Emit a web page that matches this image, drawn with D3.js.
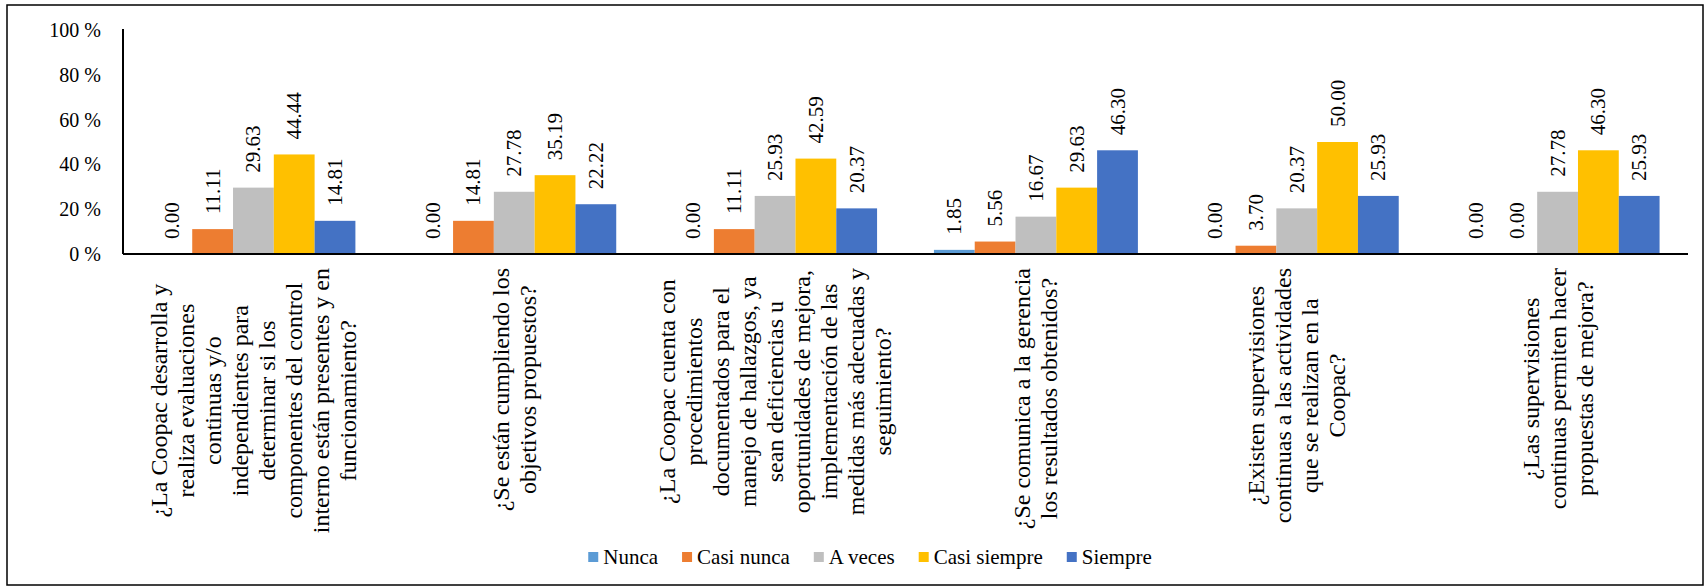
<!doctype html>
<html>
<head>
    <meta charset="UTF-8">
    <title>encuesta</title>
    <script src="https://d3js.org/d3.v7.min.js"></script>
    <style>
        body { margin: 0; background: #fff; }
        svg text { font-family: 'Liberation Serif', 'Times New Roman', Tinos, 'DejaVu Serif', serif; fill: #000; }
    </style>
</head>
<body>
<svg id="chart" width="1708" height="586"></svg>

<script>
    // preguntas (cada una partida en sus lineas)
    var preguntas = [
        ["¿La Coopac desarrolla y", "realiza evaluaciones", "continuas y/o", "independientes para",
         "determinar si los", "componentes del control", "interno están presentes y en", "funcionamiento?"],
        ["¿Se están cumpliendo los", "objetivos propuestos?"],
        ["¿La Coopac cuenta con", "procedimientos", "documentados para el", "manejo de hallazgos, ya",
         "sean deficiencias u", "oportunidades de mejora,", "implementación de las",
         "medidas más adecuadas y", "seguimiento?"],
        ["¿Se comunica a la gerencia", "los resultados obtenidos?"],
        ["¿Existen supervisiones", "continuas a las actividades", "que se realizan en la", "Coopac?"],
        ["¿Las supervisiones", "continuas permiten hacer", "propuestas de mejora?"]
    ];

    var series = ["Nunca", "Casi nunca", "A veces", "Casi siempre", "Siempre"];

    var nunca       = [0, 0, 0, 1.85, 0, 0];
    var casiNunca   = [11.11, 14.81, 11.11, 5.56, 3.70, 0];
    var aVeces      = [29.63, 27.78, 25.93, 16.67, 20.37, 27.78];
    var casiSiempre = [44.44, 35.19, 42.59, 29.63, 50.00, 46.30];
    var siempre     = [14.81, 22.22, 20.37, 46.30, 25.93, 25.93];

    var yTicks = [0, 20, 40, 60, 80, 100];

    var colores = ["#5B9BD5", "#ED7D31", "#BFBFBF", "#FFC000", "#4472C4"];

    var valores = [nunca, casiNunca, aVeces, casiSiempre, siempre];

    var fuente = "'Liberation Serif', 'Times New Roman', Tinos, 'DejaVu Serif', serif";
    var x0 = 123, x1 = 1688, yTop = 30, yBase = 254;

    var svg = d3.select("#chart")
        .attr("font-family", fuente);

    // marco
    svg.append("rect")
        .attr("x", 7).attr("y", 5)
        .attr("width", 1696).attr("height", 580)
        .attr("fill", "none")
        .attr("stroke", "#000")
        .attr("stroke-width", 1.5);

    var idx = preguntas.map(function(d, i){ return i; });

    var x = d3.scaleBand()
        .domain(idx)
        .range([x0, x1])
        .paddingInner(0.218)
        .paddingOuter(0.109);

    var xs = d3.scaleBand()
        .domain(series)
        .range([0, x.bandwidth()]);

    var y = d3.scaleLinear()
        .domain([0, 100])
        .range([yBase, yTop]);

    // eje y (solo etiquetas)
    var yAxis = d3.axisLeft(y)
        .tickValues(yTicks)
        .tickSize(0)
        .tickPadding(22)
        .tickFormat(function(d){ return d + " %"; });

    var gy = svg.append("g")
        .attr("transform", "translate(" + x0 + ",0)")
        .call(yAxis)
        .attr("font-family", fuente)
        .attr("font-size", 20);
    gy.select(".domain").remove();

    // barras
    var grupos = svg.selectAll("g.grupo")
        .data(idx)
        .enter().append("g")
        .attr("class", "grupo")
        .attr("transform", function(i){ return "translate(" + x(i) + ",0)"; });

    function filas(i){
        return series.map(function(s, k){ return {s: s, k: k, v: valores[k][i]}; });
    }

    grupos.selectAll("rect")
        .data(filas)
        .enter().append("rect")
        .attr("x", function(d){ return xs(d.s); })
        .attr("y", function(d){ return y(d.v); })
        .attr("width", xs.bandwidth())
        .attr("height", function(d){ return yBase - y(d.v); })
        .attr("fill", function(d){ return colores[d.k]; });

    // etiquetas de valor
    grupos.selectAll("text.val")
        .data(filas)
        .enter().append("text")
        .attr("class", "val")
        .attr("transform", function(d){
            return "translate(" + (xs(d.s) + xs.bandwidth() / 2) + "," + (y(d.v) - 15) + ") rotate(-90)";
        })
        .attr("dominant-baseline", "central")
        .attr("font-size", 21)
        .text(function(d){ return d.v.toFixed(2); });

    // ejes
    svg.append("line")
        .attr("x1", x0).attr("x2", x0)
        .attr("y1", yTop - 1).attr("y2", yBase)
        .attr("stroke", "#000").attr("stroke-width", 2);
    svg.append("line")
        .attr("x1", x0).attr("x2", x1)
        .attr("y1", yBase).attr("y2", yBase)
        .attr("stroke", "#000").attr("stroke-width", 2);

    // etiquetas de categoria, giradas
    var lineH = 27;
    preguntas.forEach(function(lineas, i){
        var cx = x(i) + x.bandwidth() / 2;
        var g = svg.append("g");
        var ts = lineas.map(function(t){
            return g.append("text")
                .attr("font-size", 24)
                .attr("text-anchor", "middle")
                .attr("dominant-baseline", "central")
                .text(t);
        });
        var maxLen = d3.max(ts, function(t){ return t.node().getComputedTextLength(); });
        var cy = yBase + 14 + maxLen / 2;
        ts.forEach(function(t, j){
            var lx = cx + (j - (lineas.length - 1) / 2) * lineH;
            t.attr("transform", "translate(" + lx + "," + cy + ") rotate(-90)");
        });
    });

    // leyenda
    var leg = svg.append("g");
    var posX = 0;
    series.forEach(function(s, k){
        leg.append("rect")
            .attr("x", posX).attr("y", -5)
            .attr("width", 10).attr("height", 10)
            .attr("fill", colores[k]);
        var t = leg.append("text")
            .attr("x", posX + 15).attr("y", 0)
            .attr("dominant-baseline", "central")
            .attr("font-size", 21)
            .text(s);
        posX += 15 + t.node().getComputedTextLength() + 24;
    });
    var legW = posX - 24;
    leg.attr("transform", "translate(" + (870 - legW / 2) + ",557)");
</script>
</body>
</html>
